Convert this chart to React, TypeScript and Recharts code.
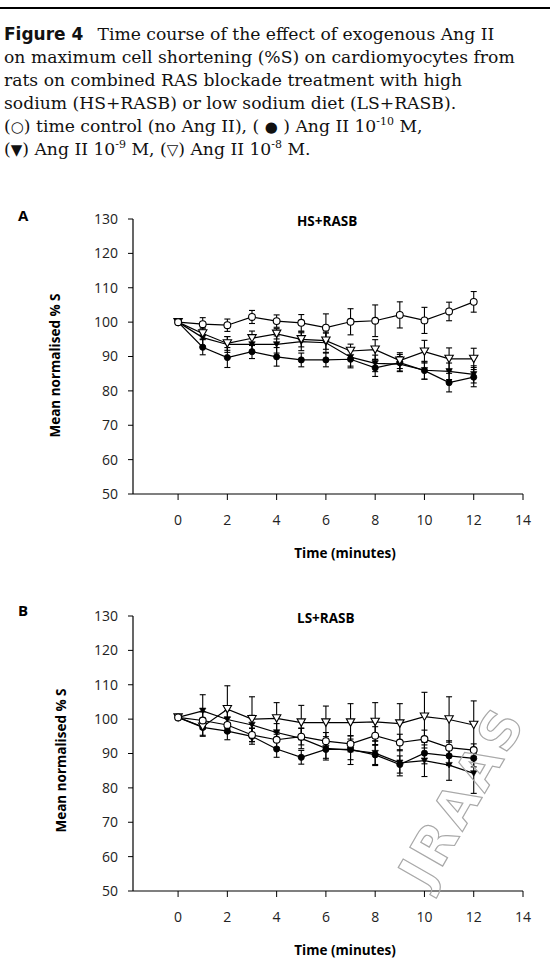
import React from "react";
import { ErrorBar, Line, LineChart, XAxis, YAxis } from "recharts";

/** Figure 4 — %S over time, HS+RASB (A) and LS+RASB (B), four Ang II conditions. */

const minutes = [0, 1, 2, 3, 4, 5, 6, 7, 8, 9, 10, 11, 12];
const xTicks = [0, 2, 4, 6, 8, 10, 12, 14];
const yTicks = [50, 60, 70, 80, 90, 100, 110, 120, 130];

// A — HS+RASB
const hsControl = [100, 99.4, 99.1, 101.5, 100.3, 99.8, 98.4, 100.1, 100.4, 102.1, 100.5, 103.1, 105.9];
const hsControlErr = [0, 1.9, 1.8, 1.9, 1.8, 2.4, 4.0, 3.8, 4.6, 3.8, 3.8, 2.7, 3.0];
const hsAng10 = [100, 92.7, 89.7, 91.4, 89.9, 89.0, 89.0, 89.2, 86.7, 88.2, 85.9, 82.4, 84.0];
const hsAng10Err = [0, 2.2, 2.9, 2.0, 2.7, 2.0, 2.0, 2.5, 2.5, 2.4, 2.5, 2.7, 2.8];
const hsAng9 = [100, 95.5, 93.5, 93.5, 93.5, 94.3, 94.0, 89.8, 88.0, 87.8, 86.0, 85.7, 84.8];
const hsAng9Err = [0, 2.5, 2.3, 2.0, 2.5, 2.6, 2.8, 2.6, 2.4, 2.2, 2.6, 2.4, 2.5];
const hsAng8 = [100, 96.7, 93.8, 95.3, 96.6, 95.0, 94.6, 91.6, 92.0, 88.8, 91.4, 89.3, 89.3];
const hsAng8Err = [0, 1.6, 2.0, 2.1, 1.5, 2.2, 2.5, 2.0, 2.9, 2.3, 3.3, 3.2, 3.1];

// B — LS+RASB
const lsControl = [100.5, 99.6, 98.3, 95.4, 94.0, 94.9, 93.6, 92.8, 95.2, 93.2, 94.2, 91.7, 91.0];
const lsControlErr = [0, 2.5, 2.2, 2.0, 2.2, 2.4, 2.5, 2.3, 2.6, 2.4, 2.6, 2.0, 1.8];
const lsAng10 = [100.5, 97.6, 96.5, 95.0, 91.3, 88.9, 91.2, 91.2, 89.6, 86.8, 90.1, 89.3, 88.6];
const lsAng10Err = [0, 2.6, 2.5, 2.3, 2.4, 2.0, 2.6, 3.0, 2.8, 2.5, 3.1, 2.8, 2.5];
const lsAng9 = [100.5, 102.4, 99.9, 98.3, 96.1, 94.4, 91.5, 91.0, 90.1, 87.3, 87.9, 86.6, 84.2];
const lsAng9Err = [0, 4.7, 2.6, 2.8, 2.6, 3.0, 3.4, 4.2, 3.6, 3.8, 4.6, 4.4, 5.8];
const lsAng8 = [100.5, 97.8, 102.9, 100.0, 100.2, 99.0, 99.0, 99.0, 99.2, 98.7, 100.7, 99.9, 98.3];
const lsAng8Err = [0, 2.5, 6.8, 6.5, 4.6, 5.0, 4.8, 5.5, 5.6, 5.8, 7.1, 6.6, 7.0];

const hsData = minutes.map((t, i) => ({
  t,
  c: hsControl[i], cE: hsControlErr[i],
  a10: hsAng10[i], a10E: hsAng10Err[i],
  a9: hsAng9[i], a9E: hsAng9Err[i],
  a8: hsAng8[i], a8E: hsAng8Err[i],
}));

const lsData = minutes.map((t, i) => ({
  t,
  c: lsControl[i], cE: lsControlErr[i],
  a10: lsAng10[i], a10E: lsAng10Err[i],
  a9: lsAng9[i], a9E: lsAng9Err[i],
  a8: lsAng8[i], a8E: lsAng8Err[i],
}));

const SANS = "'Open Sans', 'Noto Sans', sans-serif";
const INK = "#000";

function triangle(cx: number, cy: number, w: number, h: number) {
  return `M${cx - w / 2},${cy - h / 2}L${cx + w / 2},${cy - h / 2}L${cx},${cy + h / 2}Z`;
}

const openCircle = (p: any) => (
  <circle key={`oc-${p.index}`} cx={p.cx} cy={p.cy} r={3.4} fill="#fff" stroke={INK} strokeWidth={1.1} />
);
const filledCircle = (p: any) => (
  <circle key={`fc-${p.index}`} cx={p.cx} cy={p.cy} r={3.1} fill={INK} stroke={INK} strokeWidth={0.8} />
);
const openTri = (p: any) => (
  <path key={`ot-${p.index}`} d={triangle(p.cx, p.cy, 8.4, 7.4)} fill="#fff" stroke={INK} strokeWidth={1.1} />
);
const filledTri = (p: any) => (
  <path key={`ft-${p.index}`} d={triangle(p.cx, p.cy, 6.4, 5.6)} fill={INK} stroke={INK} strokeWidth={0.6} />
);

const yTitle = (dx: number, dy: number) => (props: any) => {
  const vb = props.viewBox;
  const cx = vb.x + dx;
  const cy = vb.y + vb.height / 2 + dy;
  return (
    <text
      x={cx}
      y={cy}
      transform={`rotate(-90 ${cx} ${cy})`}
      textAnchor="middle"
      dominantBaseline="central"
      fontFamily={SANS}
      fontWeight={700}
      fontSize={13.5}
      fill={INK}
    >
      Mean normalised % S
    </text>
  );
};

const xTitle = (props: any) => {
  const vb = props.viewBox;
  return (
    <text
      x={vb.x + vb.width / 2 + 17}
      y={vb.y + 59}
      textAnchor="middle"
      dominantBaseline="central"
      fontFamily={SANS}
      fontWeight={700}
      fontSize={13.5}
      fill={INK}
    >
      Time (minutes)
    </text>
  );
};

function Panel({ data, yLabelDx, yLabelDy }: { data: any[]; yLabelDx: number; yLabelDy: number }) {
  const line = { type: "linear" as const, stroke: INK, strokeWidth: 1.2, isAnimationActive: false };
  const bar = { width: 3, strokeWidth: 1.1, stroke: INK, direction: "y" as const, isAnimationActive: false };
  return (
    <LineChart width={550} height={370} data={data} margin={{ top: 19, right: 27, bottom: 16, left: 0 }}>
      <XAxis
        type="number"
        dataKey="t"
        domain={[-1.83, 14]}
        ticks={xTicks}
        interval={0}
        allowDataOverflow
        height={60}
        tickSize={6}
        tickMargin={15}
        axisLine={{ stroke: INK, strokeWidth: 1.2 }}
        tickLine={{ stroke: INK, strokeWidth: 1 }}
        tick={{ fill: "#222", fontSize: 14, fontFamily: SANS }}
        label={{ content: xTitle }}
      />
      <YAxis
        type="number"
        domain={[50, 130]}
        ticks={yTicks}
        interval={0}
        allowDataOverflow
        width={133}
        tickSize={5}
        tickMargin={10}
        axisLine={{ stroke: INK, strokeWidth: 1.2 }}
        tickLine={{ stroke: INK, strokeWidth: 1 }}
        tick={{ fill: "#222", fontSize: 14, fontFamily: SANS }}
        label={{ content: yTitle(yLabelDx, yLabelDy) }}
      />
      <Line dataKey="a9" {...line} dot={filledTri}>
        <ErrorBar dataKey="a9E" {...bar} />
      </Line>
      <Line dataKey="a10" {...line} dot={filledCircle}>
        <ErrorBar dataKey="a10E" {...bar} />
      </Line>
      <Line dataKey="a8" {...line} dot={openTri}>
        <ErrorBar dataKey="a8E" {...bar} />
      </Line>
      <Line dataKey="c" {...line} dot={openCircle}>
        <ErrorBar dataKey="cE" {...bar} />
      </Line>
    </LineChart>
  );
}

const captionLine: React.CSSProperties = { whiteSpace: "nowrap", height: 23, lineHeight: "23px" };
const sup: React.CSSProperties = { fontSize: 11, verticalAlign: "7px", lineHeight: 0 };
const sym: React.CSSProperties = { fontFamily: "'DejaVu Sans', sans-serif", fontSize: 15 };

export default function App() {
  return (
    <div
      style={{
        position: "absolute",
        left: 0,
        top: 0,
        width: 550,
        height: 969,
        background: "#fff",
        overflow: "hidden",
      }}
    >
      <div style={{ position: "absolute", left: 0, top: 7, width: 550, height: 2, background: INK }} />

      <div
        style={{
          position: "absolute",
          left: 4,
          top: 23,
          fontFamily: "'DejaVu Serif', serif",
          fontSize: 17.2,
          color: "#111",
        }}
      >
        <div style={captionLine}>
          <span style={{ fontFamily: "'DejaVu Sans', sans-serif", fontWeight: 700, fontSize: 17 }}>Figure 4</span>
          {"\u2002 "}Time course of the effect of exogenous Ang II
        </div>
        <div style={captionLine}>on maximum cell shortening (%S) on cardiomyocytes from</div>
        <div style={captionLine}>rats on combined RAS blockade treatment with high</div>
        <div style={captionLine}>sodium (HS+RASB) or low sodium diet (LS+RASB).</div>
        <div style={captionLine}>
          (<span style={sym}>○</span>) time control (no Ang II), ( <span style={sym}>●</span> ) Ang II 10
          <sup style={sup}>-10</sup> M,
        </div>
        <div style={captionLine}>
          (<span style={sym}>▼</span>) Ang II 10<sup style={sup}>-9</sup> M, (<span style={sym}>▽</span>) Ang II 10
          <sup style={sup}>-8</sup> M.
        </div>
      </div>

      {/* panel A */}
      <div style={{ position: "absolute", left: 18, top: 205, fontFamily: SANS, fontWeight: 700, fontSize: 15 }}>A</div>
      <div style={{ position: "absolute", left: 0, top: 200 }}>
        <Panel data={hsData} yLabelDx={55} yLabelDy={9} />
      </div>
      <div
        style={{ position: "absolute", left: 297, top: 212, fontFamily: SANS, fontWeight: 700, fontSize: 13.5 }}
      >
        HS+RASB
      </div>

      {/* panel B */}
      <div style={{ position: "absolute", left: 18, top: 600, fontFamily: SANS, fontWeight: 700, fontSize: 15 }}>B</div>
      <div style={{ position: "absolute", left: 0, top: 597 }}>
        <Panel data={lsData} yLabelDx={61} yLabelDy={7} />
      </div>
      <div
        style={{ position: "absolute", left: 297, top: 609, fontFamily: SANS, fontWeight: 700, fontSize: 13.5 }}
      >
        LS+RASB
      </div>

      {/* faint journal stamp over the lower right corner */}
      <svg width={550} height={969} style={{ position: "absolute", left: 0, top: 0, pointerEvents: "none" }}>
        <text
          x={478}
          y={805}
          transform="rotate(-60 478 805)"
          textAnchor="middle"
          fontFamily="'DejaVu Sans', sans-serif"
          fontWeight={700}
          fontSize={52}
          fill="none"
          stroke="#a8a8a8"
          strokeWidth={1.2}
          letterSpacing={4}
        >
          JRAAS
        </text>
      </svg>
    </div>
  );
}
